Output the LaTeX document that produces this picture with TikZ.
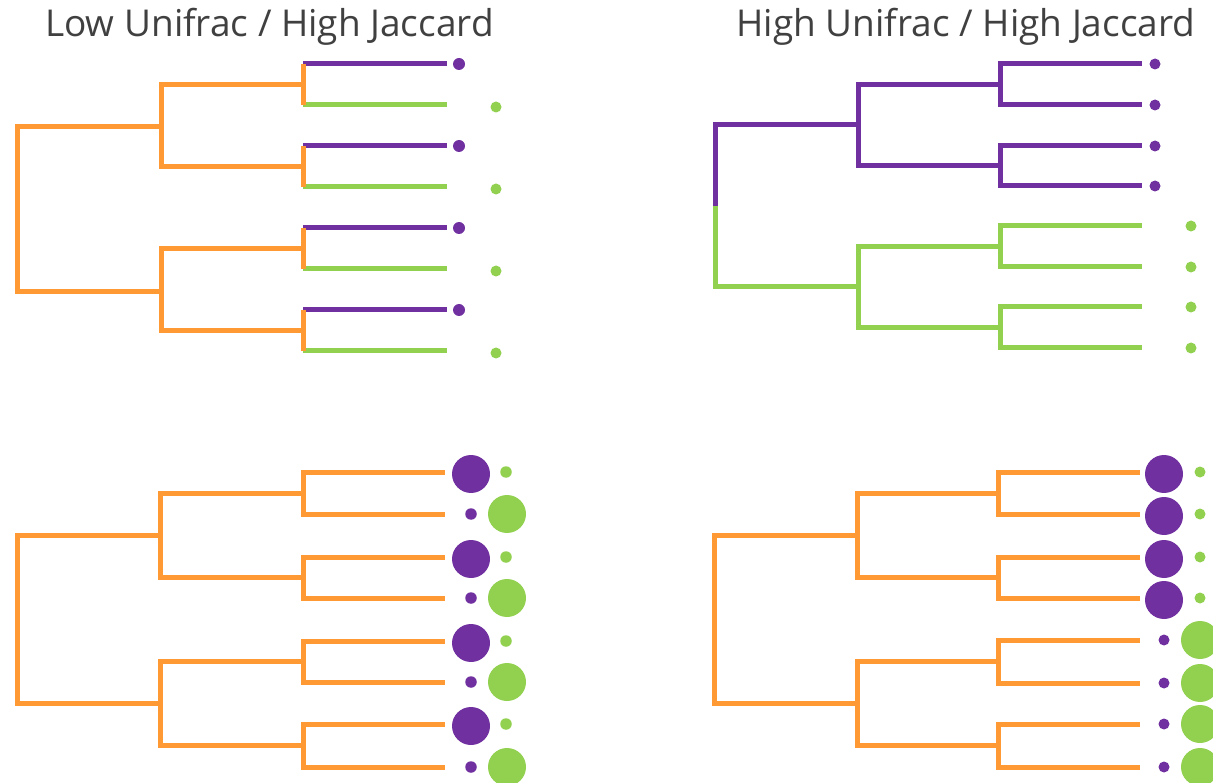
\documentclass[tikz,border=0pt]{standalone}
\usepackage{fontspec}
\setmainfont{Open Sans}
\usetikzlibrary{calc}
\definecolor{cOra}{HTML}{FF9933}
\definecolor{cPur}{HTML}{7030A0}
\definecolor{cGrn}{HTML}{92D050}
\definecolor{cTxt}{HTML}{404040}
\tikzset{
  br/.style    ={line width=5pt,line join=miter,line cap=butt},
  blob/.style  ={circle,inner sep=0pt,outer sep=0pt,minimum size=#1,draw=none},
  ttl/.style   ={font=\fontsize{37}{42}\selectfont,text=cTxt,anchor=base,inner sep=0pt},
}

\begin{document}
\begin{tikzpicture}[x=1pt,y=-1pt]
\useasboundingbox (0,0) rectangle (1213,783);
\clip (0,0) rectangle (1213,783);

\node[ttl] (t-lo) at (269.5,37) {Low Unifrac / High Jaccard};
\node[ttl] (t-hi) at (966,37) {High Unifrac / High Jaccard};

% ---- top left: mixed leaves ---------------------------------------------
\foreach \i in {1,...,8}{\coordinate (tl-l\i) at (447,{64+41*(\i-1)});}
\coordinate (tl-r)  at (17,209);
\coordinate (tl-a)  at (161,126.5);
\coordinate (tl-b)  at (161,291.5);
\coordinate (tl-a1) at (303,84.5);
\coordinate (tl-a2) at (303,166.5);
\coordinate (tl-b1) at (303,248.5);
\coordinate (tl-b2) at (303,330.5);
\foreach \i/\c/\col in {1/tl-a1/cPur,2/tl-a1/cGrn,3/tl-a2/cPur,4/tl-a2/cGrn,
                        5/tl-b1/cPur,6/tl-b1/cGrn,7/tl-b2/cPur,8/tl-b2/cGrn}
  {\draw[br,\col] (tl-l\i -| \c) -- (tl-l\i);}
\draw[br,cOra] (tl-r) |- (tl-a) (tl-r) |- (tl-b);
\foreach \p/\c in {tl-a/tl-a1,tl-a/tl-a2,tl-b/tl-b1,tl-b/tl-b2}
  {\draw[br,cOra] (\p) |- (\c);}
\foreach \c/\m/\n in {tl-a1/1/2,tl-a2/3/4,tl-b1/5/6,tl-b2/7/8}
  {\draw[br,cOra] (tl-l\m -| \c) -- (tl-l\n -| \c);}
\foreach \i in {1,3,5,7}{\node[blob=12pt,fill=cPur] (tl-d\i) at ([xshift=12pt]tl-l\i) {};}
\foreach \i in {2,4,6,8}{\node[blob=11pt,fill=cGrn] (tl-d\i) at ([xshift=49pt,yshift=-2pt]tl-l\i) {};}

% ---- top right: split by colour -----------------------------------------
\foreach \i/\y in {1/64,2/105,3/146,4/186,5/226,6/267,7/307,8/348}
  {\coordinate (tr-l\i) at (1142,\y);}
\coordinate (tr-r)  at (715,206);
\coordinate (tr-a)  at (858,125);
\coordinate (tr-b)  at (858,287);
\coordinate (tr-a1) at (1000,84.5);
\coordinate (tr-a2) at (1000,166);
\coordinate (tr-b1) at (1000,246.5);
\coordinate (tr-b2) at (1000,327.5);
\draw[br,cPur] (tr-r) |- (tr-a);
\draw[br,cGrn] (tr-r) |- (tr-b);
\foreach \p/\c/\col in {tr-a/tr-a1/cPur,tr-a/tr-a2/cPur,tr-b/tr-b1/cGrn,tr-b/tr-b2/cGrn}
  {\draw[br,\col] (\p) |- (\c);}
\foreach \c/\i/\col in {tr-a1/1/cPur,tr-a1/2/cPur,tr-a2/3/cPur,tr-a2/4/cPur,
                        tr-b1/5/cGrn,tr-b1/6/cGrn,tr-b2/7/cGrn,tr-b2/8/cGrn}
  {\draw[br,\col] (\c) |- (tr-l\i);}
\foreach \i in {1,...,4}{\node[blob=11pt,fill=cPur] (tr-d\i) at ([xshift=13pt]tr-l\i) {};}
\foreach \i in {5,...,8}{\node[blob=11pt,fill=cGrn] (tr-d\i) at ([xshift=49pt]tr-l\i) {};}

% ---- bottom left: abundance alternates ----------------------------------
\foreach \i/\y in {1/472,2/514,3/557,4/598,5/641,6/682,7/724,8/767}
  {\coordinate (bl-l\i) at (445,\y);}
\coordinate (bl-r)  at (17,619);
\coordinate (bl-a)  at (160,535);
\coordinate (bl-b)  at (160,703.5);
\coordinate (bl-a1) at (303,493);
\coordinate (bl-a2) at (303,577.5);
\coordinate (bl-b1) at (303,661.5);
\coordinate (bl-b2) at (303,745.5);
\draw[br,cOra] (bl-r) |- (bl-a) (bl-r) |- (bl-b);
\foreach \p/\c in {bl-a/bl-a1,bl-a/bl-a2,bl-b/bl-b1,bl-b/bl-b2}
  {\draw[br,cOra] (\p) |- (\c);}
\foreach \c/\m/\n in {bl-a1/1/2,bl-a2/3/4,bl-b1/5/6,bl-b2/7/8}
  {\draw[br,cOra] (\c) |- (bl-l\m) (\c) |- (bl-l\n);}
\foreach \i in {1,3,5,7}{
  \node[blob=38pt,fill=cPur] (bl-p\i) at ([xshift=26pt,yshift=-2pt]bl-l\i) {};
  \node[blob=11.5pt,fill=cGrn] (bl-g\i) at ([xshift=61pt]bl-l\i) {};
}
\foreach \i in {2,4,6,8}{
  \node[blob=11.5pt,fill=cPur] (bl-p\i) at ([xshift=26pt]bl-l\i) {};
  \node[blob=38pt,fill=cGrn] (bl-g\i) at ([xshift=62pt]bl-l\i) {};
}

% ---- bottom right: abundance by clade -----------------------------------
\foreach \i/\y in {1/472,2/514,3/557,4/598,5/640,6/683,7/724,8/767}
  {\coordinate (br-l\i) at (1140,\y);}
\coordinate (br-r)  at (714,619);
\coordinate (br-a)  at (857,535);
\coordinate (br-b)  at (857,703.5);
\coordinate (br-a1) at (998,493);
\coordinate (br-a2) at (998,577.5);
\coordinate (br-b1) at (998,661.5);
\coordinate (br-b2) at (998,745.5);
\draw[br,cOra] (br-r) |- (br-a) (br-r) |- (br-b);
\foreach \p/\c in {br-a/br-a1,br-a/br-a2,br-b/br-b1,br-b/br-b2}
  {\draw[br,cOra] (\p) |- (\c);}
\foreach \c/\m/\n in {br-a1/1/2,br-a2/3/4,br-b1/5/6,br-b2/7/8}
  {\draw[br,cOra] (\c) |- (br-l\m) (\c) |- (br-l\n);}
\foreach \i in {1,...,4}{
  \node[blob=38pt,fill=cPur] (br-p\i) at ([xshift=24pt,yshift=-2pt]br-l\i) {};
  \node[blob=11pt,fill=cGrn] (br-g\i) at ([xshift=60pt]br-l\i) {};
}
\foreach \i in {5,...,8}{
  \node[blob=11pt,fill=cPur] (br-p\i) at ([xshift=24pt]br-l\i) {};
  \node[blob=38pt,fill=cGrn] (br-g\i) at ([xshift=60pt]br-l\i) {};
}
\end{tikzpicture}
\end{document}
